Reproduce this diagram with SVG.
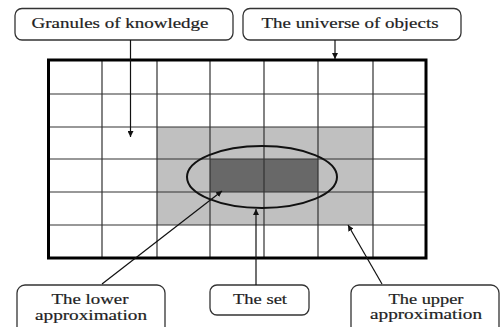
<svg xmlns="http://www.w3.org/2000/svg" width="501" height="327" viewBox="0 0 501 327">
<defs>
<style>
.box{fill:#fff;stroke:#333;stroke-width:1.3}
.lbl{font-family:"Liberation Serif","Times New Roman",serif;font-size:15px;fill:#222;stroke:#222;stroke-width:0.2;text-anchor:middle}
.grid{stroke:#333;stroke-width:1.2;fill:none}
.con{stroke:#111;stroke-width:1.2;fill:none;marker-end:url(#arr)}
</style>
<marker id="arr" viewBox="0 0 10 10" refX="10" refY="5" markerWidth="6" markerHeight="6" markerUnits="userSpaceOnUse" orient="auto">
<path d="M0,0 L10,5 L0,10 z" fill="#111"/>
</marker>
</defs>
<rect width="501" height="327" fill="#fff"/>
<g id="universe-grid">
<rect x="157" y="127" width="216" height="98" fill="#c0c0c0"/>
<rect x="210" y="159" width="108" height="33" fill="#686868"/>
<path class="grid" d="M102,60V258M157,60V258M210,60V258M264,60V258M318,60V258M373,60V258M48,94H426M48,127H426M48,159H426M48,192H426M48,225H426"/>
<rect x="48.5" y="60" width="377.5" height="198" fill="none" stroke="#000" stroke-width="3"/>
</g>
<g id="the-set-ellipse">
<ellipse cx="262" cy="177" rx="75" ry="31" fill="none" stroke="#111" stroke-width="2"/>
</g>
<g id="granules">
<rect class="box" x="15" y="8.5" width="218" height="31.5" rx="7"/>
<text class="lbl" x="120" y="27.5" textLength="177" lengthAdjust="spacingAndGlyphs">Granules of knowledge</text>
</g>
<g id="universe">
<rect class="box" x="243" y="8.5" width="218" height="31.5" rx="7"/>
<text class="lbl" x="350" y="27.5" textLength="177" lengthAdjust="spacingAndGlyphs">The universe of objects</text>
</g>
<g id="lower">
<rect class="box" x="17" y="285" width="148" height="55" rx="8"/>
<text class="lbl" x="90" y="303.5" textLength="77" lengthAdjust="spacingAndGlyphs">The lower</text>
<text class="lbl" x="91" y="320" textLength="112" lengthAdjust="spacingAndGlyphs">approximation</text>
</g>
<g id="set">
<rect class="box" x="210" y="285" width="99" height="30" rx="7"/>
<text class="lbl" x="260" y="303.5" textLength="54" lengthAdjust="spacingAndGlyphs">The set</text>
</g>
<g id="upper">
<rect class="box" x="351" y="285" width="148" height="55" rx="8"/>
<text class="lbl" x="426" y="303.5" textLength="75" lengthAdjust="spacingAndGlyphs">The upper</text>
<text class="lbl" x="426" y="319" textLength="112" lengthAdjust="spacingAndGlyphs">approximation</text>
</g>
<g id="connectors">
<path class="con" d="M130.5,40V137"/>
<path class="con" d="M335,40V59"/>
<path class="con" d="M102,284L222,191"/>
<path class="con" d="M256,285V209"/>
<path class="con" d="M382,284L348,225"/>
</g>
</svg>
